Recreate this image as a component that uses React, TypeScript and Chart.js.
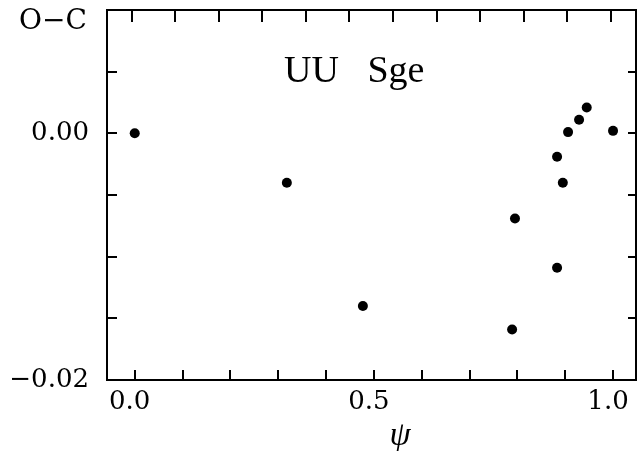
import React, { useEffect, useRef } from 'react';
import { Chart, registerables } from 'chart.js';

Chart.register(...registerables);

// Data (phase psi, O-C in days)
const phase = [0.0, 0.318, 0.477, 0.795, 0.789, 0.883, 0.883, 0.895, 0.906, 0.929, 0.945, 1.0];
const oMinusC = [0.0, -0.004, -0.014, -0.0069, -0.0159, -0.0019, -0.0109, -0.004, 0.0001, 0.0011, 0.0021, 0.0002];

// Axis ticks
const xTickValues = [0.0, 0.1, 0.2, 0.3, 0.4, 0.5, 0.6, 0.7, 0.8, 0.9, 1.0];
const xLabelValues = [0.0, 0.5, 1.0];
const xLabelTexts = ['0.0', '0.5', '1.0'];
const topTickValues = [-0.006, 0.085, 0.176, 0.267, 0.358, 0.449, 0.54, 0.631, 0.722, 0.813, 0.904, 0.995];
const yTickValues = [0.01, 0.005, 0.0, -0.005, -0.01, -0.015, -0.02];
const yLabelValues = [0.0, -0.02];
const yLabelTexts = ['0.00', '\u22120.02'];

const yAxisLabel = 'O\u2212C';
const xAxisLabel = '\u03c8';
const starName = 'UU   Sge';

const findLabel = (vals: number[], texts: string[], v: number) => {
  const i = vals.findIndex((a) => Math.abs(a - v) < 1e-9);
  return i >= 0 ? texts[i] : null;
};

const framePlugin = {
  id: 'frame',
  afterDraw(chart: any) {
    const { ctx, chartArea } = chart;
    const xs = chart.scales.x;
    const ys = chart.scales.y;
    const { left, right, top, bottom } = chartArea;
    ctx.save();
    ctx.strokeStyle = '#000';
    ctx.lineWidth = 2;
    ctx.strokeRect(left, top, right - left, bottom - top);
    ctx.beginPath();
    xTickValues.forEach((v) => {
      const px = Math.round(xs.getPixelForValue(v));
      ctx.moveTo(px, bottom);
      ctx.lineTo(px, bottom - 10);
    });
    topTickValues.forEach((v) => {
      const px = Math.round(xs.getPixelForValue(v));
      ctx.moveTo(px, top);
      ctx.lineTo(px, top + 12);
    });
    yTickValues.forEach((v) => {
      const py = Math.round(ys.getPixelForValue(v));
      ctx.moveTo(left, py);
      ctx.lineTo(left + 10, py);
      ctx.moveTo(right, py);
      ctx.lineTo(right - 8, py);
    });
    ctx.stroke();

    ctx.fillStyle = '#000';
    ctx.textBaseline = 'middle';
    ctx.textAlign = 'left';
    ctx.font = '28px "DejaVu Serif"';
    ctx.fillText(yAxisLabel, 19, 22);

    ctx.textBaseline = 'alphabetic';
    ctx.font = '38px "Liberation Serif"';
    ctx.fillText(starName, 284, 82);

    ctx.textAlign = 'center';
    ctx.font = 'italic 34px "Liberation Serif"';
    ctx.fillText(xAxisLabel, 400, 445);
    ctx.restore();
  },
};

export default function App() {
  const ref = useRef<HTMLCanvasElement>(null);

  useEffect(() => {
    if (!ref.current) return;
    const tickFont = { family: '"DejaVu Serif"', size: 26 };
    const chart = new Chart(ref.current, {
      type: 'scatter',
      data: {
        datasets: [
          {
            data: phase.map((x, i) => ({ x, y: oMinusC[i] })),
            backgroundColor: '#000',
            borderColor: '#000',
            borderWidth: 0,
            pointRadius: 5,
          },
        ],
      },
      options: {
        responsive: false,
        animation: false,
        devicePixelRatio: 1,
        layout: { padding: { top: 10, right: 8, left: 0, bottom: 0 } },
        plugins: { legend: { display: false }, tooltip: { enabled: false } },
        scales: {
          x: {
            type: 'linear',
            min: -0.058,
            max: 1.048,
            afterBuildTicks: (s: any) => {
              s.ticks = xTickValues.map((v) => ({ value: v }));
            },
            afterFit: (s: any) => {
              s.height = 71;
              s.paddingLeft = 0;
              s.paddingRight = 0;
              s.paddingTop = 0;
              s.paddingBottom = 0;
            },
            grid: { display: false, drawTicks: false },
            border: { display: false },
            ticks: {
              autoSkip: false,
              maxRotation: 0,
              padding: 7,
              labelOffset: -5,
              color: '#000',
              font: tickFont,
              callback: (v: any) => findLabel(xLabelValues, xLabelTexts, Number(v)),
            },
          },
          y: {
            type: 'linear',
            min: -0.02,
            max: 0.01,
            afterBuildTicks: (s: any) => {
              s.ticks = yTickValues.map((v) => ({ value: v }));
            },
            afterFit: (s: any) => {
              s.width = 107;
              s.paddingLeft = 0;
              s.paddingRight = 0;
              s.paddingTop = 0;
              s.paddingBottom = 0;
            },
            grid: { display: false, drawTicks: false },
            border: { display: false },
            ticks: {
              autoSkip: false,
              padding: 18,
              color: '#000',
              font: tickFont,
              callback: (v: any) => findLabel(yLabelValues, yLabelTexts, Number(v)),
            },
          },
        },
      },
      plugins: [framePlugin],
    });
    return () => chart.destroy();
  }, []);

  return (
    <div style={{ position: 'absolute', left: 0, top: 0, width: 644, height: 451, background: '#fff' }}>
      <canvas ref={ref} width={644} height={451} style={{ display: 'block' }} />
    </div>
  );
}
